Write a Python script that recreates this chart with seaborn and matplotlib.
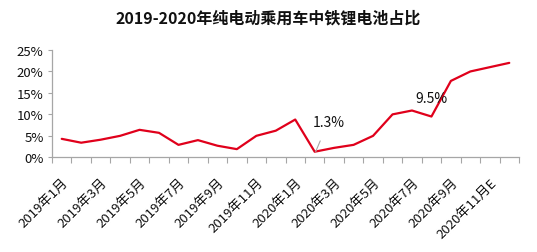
import matplotlib
matplotlib.use("Agg")
import matplotlib.pyplot as plt
import seaborn as sns
import pandas as pd
import numpy as np

months = ["2019年1月", "2019年2月", "2019年3月", "2019年4月", "2019年5月", "2019年6月",
          "2019年7月", "2019年8月", "2019年9月", "2019年10月", "2019年11月", "2019年12月",
          "2020年1月", "2020年2月", "2020年3月", "2020年4月", "2020年5月", "2020年6月",
          "2020年7月", "2020年8月", "2020年9月", "2020年10月", "2020年11月E", "2020年12月E"]
share = [4.3, 3.4, 4.1, 5.0, 6.4, 5.7, 2.9, 4.0, 2.7, 1.9, 5.0, 6.2,
         8.8, 1.3, 2.2, 2.9, 5.0, 10.0, 10.9, 9.5, 17.8, 20.0, 21.0, 22.0]
yticks = [0, 5, 10, 15, 20, 25]

sns.set_theme(style="white")
plt.rcParams['font.family'] = ['Noto Sans CJK SC', 'DejaVu Sans']

df = pd.DataFrame({"idx": np.arange(len(months)), "share": share})

fig = plt.figure(figsize=(5.37, 2.53), dpi=100)
ax = fig.add_axes([52/537, 1-158.3/253, (519-52)/537, (158.3-51)/253])

sns.lineplot(data=df, x="idx", y="share", ax=ax, color="#E0001B", linewidth=1.6)

ax.set_xlim(-0.5, len(months) - 0.5)
ax.set_ylim(0, 25)
ax.set_yticks(yticks)
ax.set_yticklabels([f"{v}%" for v in yticks], fontsize=9.5, color="#111111")
ax.set_xlabel("")
ax.set_ylabel("")

major = list(range(0, len(months), 2))
ax.set_xticks(major)
ax.set_xticklabels([months[i] for i in major], rotation=45, ha="right",
                   rotation_mode="anchor", fontsize=9.5, color="#111111")
ax.set_xticks(np.arange(-0.5, len(months), 1.0), minor=True)
ax.tick_params(axis="x", which="major", length=0, pad=13)
ax.tick_params(axis="x", which="minor", length=4, width=0.8, color="#A6A6A6", direction="out", bottom=True)
ax.tick_params(axis="y", which="major", length=3, width=0.8, color="#A6A6A6", direction="out", left=True, pad=3)

for s in ["top", "right"]:
    ax.spines[s].set_visible(False)
for s in ["left", "bottom"]:
    ax.spines[s].set_color("#A6A6A6")
    ax.spines[s].set_linewidth(0.9)

ax.annotate("1.3%", xy=(13.05, share[13]), xytext=(13.7, 8.3),
            ha="center", va="center", fontsize=10, color="#111111",
            arrowprops=dict(arrowstyle="-", color="#A6A6A6", lw=0.8, shrinkA=7, shrinkB=0))
ax.text(19.0, 13.9, "9.5%", ha="center", va="center", fontsize=10, color="#111111")

fig.text(0.5, 1 - 18/253, "2019-2020年纯电动乘用车中铁锂电池占比", ha="center", va="center",
         fontsize=11.5, fontweight="bold", color="#111111")

fig.savefig("out.png", dpi=100)
